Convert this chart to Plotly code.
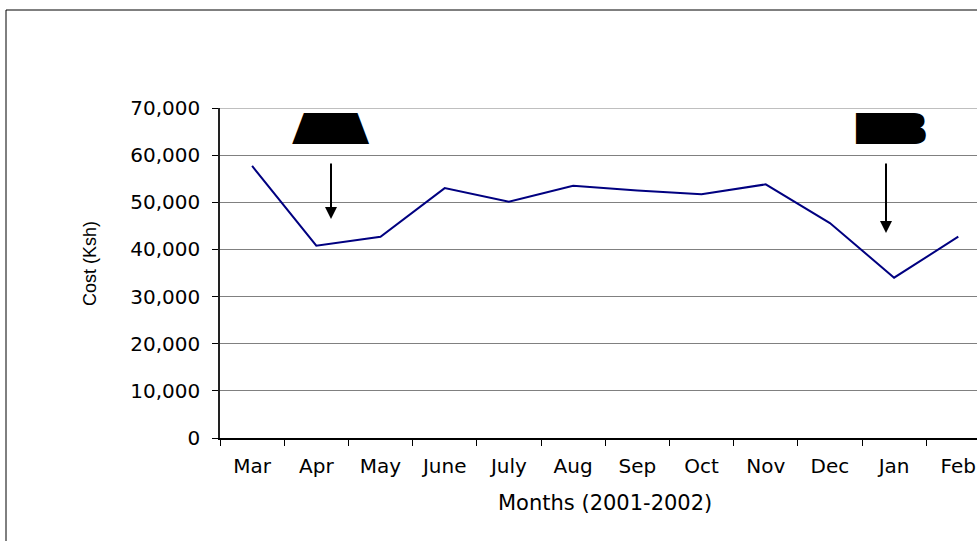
import plotly.graph_objects as go

months = ['Mar', 'Apr', 'May', 'June', 'July', 'Aug', 'Sep', 'Oct', 'Nov', 'Dec', 'Jan', 'Feb']
cost = [57700, 40800, 42700, 53000, 50100, 53500, 52500, 51700, 53800, 45600, 34000, 42700]
y_ticks = [0, 10000, 20000, 30000, 40000, 50000, 60000, 70000]

W, H = 977, 541
L, T, B = 220, 108, 103
plot_w = W - L
plot_h = H - T - B
cat_w = 64.2  # pixels per month in the original (plot runs off the right edge)


def px_x(px):
    return (px - L) / plot_w


def px_y(py):
    return (H - B - py) / plot_h


# smear the big letters sideways so they look like the wide poster letters
smear = ', '.join('%dpx 0 0 #000' % d for d in range(-22, 23, 2))

fig = go.Figure()
fig.add_trace(go.Scatter(x=months, y=cost, mode='lines',
                         line=dict(color='#000080', width=2),
                         showlegend=False, hoverinfo='skip'))

fig.update_layout(
    width=W, height=H,
    margin=dict(l=L, r=0, t=T, b=B, autoexpand=False),
    paper_bgcolor='white', plot_bgcolor='white',
    font=dict(family='DejaVu Sans', size=19, color='black'),
    xaxis=dict(
        type='category', range=[-0.5, -0.5 + plot_w / cat_w],
        tickson='boundaries', ticks='outside', ticklen=6, tickwidth=1,
        tickcolor='black', showline=True, linecolor='black', linewidth=1.5,
        showgrid=False, zeroline=False, ticklabelstandoff=9,
        tickfont=dict(family='DejaVu Sans', size=20),
        automargin=False,
    ),
    yaxis=dict(
        range=[0, 70000], tickvals=y_ticks, tickformat=',d',
        ticks='outside', ticklen=6, tickwidth=1, tickcolor='black',
        showline=True, linecolor='#222', linewidth=1.5,
        showgrid=True, gridcolor='#808080', gridwidth=1, zeroline=False,
        ticklabelstandoff=8, tickfont=dict(family='DejaVu Sans', size=20),
        automargin=False,
    ),
)

center = dict(xref='paper', yref='paper', xanchor='center', yanchor='middle')
annotations = [
    dict(text='Months (2001-2002)', x=px_x(605), y=px_y(503), showarrow=False,
         font=dict(family='DejaVu Sans', size=21), **center),
    dict(text='Cost (Ksh)', textangle=-90, x=px_x(90), y=px_y(264),
         showarrow=False, font=dict(family='Liberation Sans', size=18), **center),
    dict(text='A', x=px_x(331), y=px_y(129), showarrow=False,
         font=dict(family='DejaVu Sans', size=43, weight='bold', shadow=smear),
         **center),
    dict(text='B', x=px_x(890), y=px_y(129), showarrow=False,
         font=dict(family='DejaVu Sans', size=43, weight='bold', shadow=smear),
         **center),
    dict(text='', x=px_x(331), y=px_y(219), ax=0, ay=-57, showarrow=True,
         arrowhead=2, arrowsize=1.2, arrowwidth=2, arrowcolor='black', **center),
    dict(text='', x=px_x(886), y=px_y(233), ax=0, ay=-71, showarrow=True,
         arrowhead=2, arrowsize=1.2, arrowwidth=2, arrowcolor='black', **center),
]
fig.update_layout(annotations=annotations)

# top gridline at 70,000
fig.add_shape(type='line', xref='paper', yref='y', x0=0, x1=1,
              y0=y_ticks[-1], y1=y_ticks[-1],
              line=dict(color='#808080', width=1))

# outer frame of the original picture (right and bottom edges fall outside)
fig.add_shape(type='line', xref='paper', yref='paper',
              x0=px_x(6), y0=px_y(10), x1=px_x(W + 20), y1=px_y(10),
              line=dict(color='black', width=1))
fig.add_shape(type='line', xref='paper', yref='paper',
              x0=px_x(6), y0=px_y(10), x1=px_x(6), y1=px_y(H + 20),
              line=dict(color='black', width=1))

fig.write_html("out.html", config={'displayModeBar': False},
               post_script="document.body.style.margin = '0';")
